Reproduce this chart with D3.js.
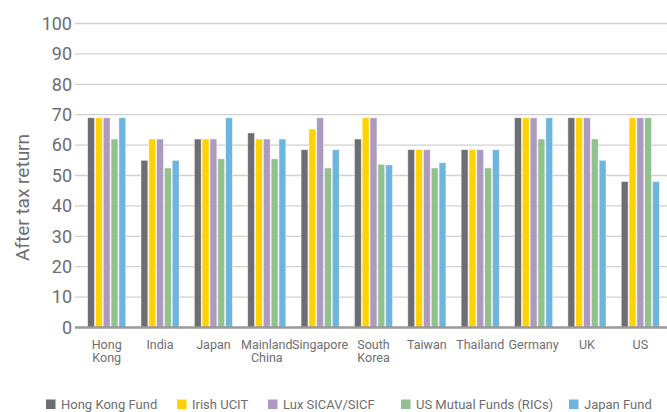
<!DOCTYPE html>
<html>
<head>
<meta charset="utf-8">
<script src="https://cdn.jsdelivr.net/npm/d3@7"></script>
<style>
  html, body { margin: 0; padding: 0; background: #fff; }
  svg { display: block; font-family: Roboto, "Open Sans", sans-serif; }
</style>
</head>
<body>
<svg id="chart" width="667" height="412"></svg>
<script>
// Countries (x categories), label lines for wrapping
const categories = ['Hong Kong', 'India', 'Japan', 'Mainland China', 'Singapore', 'South Korea',
  'Taiwan', 'Thailand', 'Germany', 'UK', 'US'];
const categoryLines = [['Hong', 'Kong'], ['India'], ['Japan'], ['Mainland', 'China'], ['Singapore'],
  ['South', 'Korea'], ['Taiwan'], ['Thailand'], ['Germany'], ['UK'], ['US']];

const seriesNames = ['Hong Kong Fund', 'Irish UCIT', 'Lux SICAV/SICF', 'US Mutual Funds (RICs)', 'Japan Fund'];
const seriesColors = ['#6d6e71', '#ffd200', '#ad9bbf', '#93c18e', '#6db4df'];

// After tax return, one array per fund type, in category order
const hongKongFund = [69, 55, 62, 64, 58.5, 62, 58.5, 58.5, 69, 69, 48];
const irishUcit    = [69, 62, 62, 62, 65.3, 69, 58.5, 58.5, 69, 69, 69];
const luxSicav     = [69, 62, 62, 62, 69, 69, 58.5, 58.5, 69, 69, 69];
const usMutual     = [62, 52.5, 55.5, 55.5, 52.5, 53.7, 52.5, 52.5, 62, 62, 69];
const japanFund    = [69, 55, 69, 62, 58.5, 53.5, 54.2, 58.5, 69, 55, 48];
const seriesValues = [hongKongFund, irishUcit, luxSicav, usMutual, japanFund];

const yTicks = [0, 10, 20, 30, 40, 50, 60, 70, 80, 90, 100];

const svg = d3.select('#chart');
const gridLeft = 75;
const plotRight = 667;

const x = d3.scaleBand().domain(categories).range([80, 667]).paddingInner(0.25).paddingOuter(0.125);
const xs = d3.scaleBand().domain(d3.range(seriesNames.length)).range([0, x.bandwidth()]).padding(0.12);
const y = d3.scaleLinear().domain([0, 100]).range([327.5, 23.5]);

// Gridlines
svg.append('g')
  .selectAll('line')
  .data(yTicks.filter((t) => t > 0))
  .join('line')
  .attr('x1', gridLeft)
  .attr('x2', plotRight)
  .attr('y1', (d) => y(d))
  .attr('y2', (d) => y(d))
  .attr('stroke', '#d0d0d0')
  .attr('stroke-width', 1.3);

// Y tick labels
svg.append('g')
  .selectAll('text')
  .data(yTicks)
  .join('text')
  .attr('x', 72)
  .attr('y', (d) => y(d))
  .attr('dy', '0.35em')
  .attr('text-anchor', 'end')
  .attr('fill', '#6d6e71')
  .style('font-size', '18px')
  .text((d) => d);

// Y axis title
svg.append('text')
  .attr('transform', `translate(29, ${(y(0) + y(100)) / 2 + 22}) rotate(-90)`)
  .attr('text-anchor', 'middle')
  .attr('fill', '#6d6e71')
  .style('font-size', '19px')
  .text('After tax return');

// Bars
const groups = svg.append('g')
  .selectAll('g')
  .data(categories)
  .join('g')
  .attr('transform', (d) => `translate(${x(d)},0)`);

groups.selectAll('rect')
  .data((d, i) => seriesValues.map((vals, s) => ({ s, v: vals[i] })))
  .join('rect')
  .attr('x', (d) => xs(d.s))
  .attr('width', xs.bandwidth())
  .attr('y', (d) => y(d.v))
  .attr('height', (d) => y(0) - y(d.v))
  .attr('fill', (d) => seriesColors[d.s])
  .attr('stroke', '#fff')
  .attr('stroke-opacity', 0.6)
  .attr('stroke-width', 0.8);

// Baseline
svg.append('line')
  .attr('x1', gridLeft)
  .attr('x2', plotRight)
  .attr('y1', y(0))
  .attr('y2', y(0))
  .attr('stroke', '#9a9a9a')
  .attr('stroke-width', 2.5);

// Category labels, one text per line
const catLabels = svg.append('g')
  .selectAll('g')
  .data(categories)
  .join('g')
  .attr('transform', (d) => `translate(${x(d) + x.bandwidth() / 2},0)`);

catLabels.selectAll('text')
  .data((d, i) => categoryLines[i])
  .join('text')
  .attr('y', (d, i) => 348.5 + i * 13.5)
  .attr('text-anchor', 'middle')
  .attr('fill', '#6d6e71')
  .style('font-size', '12.5px')
  .text((d) => d);

// Legend
const legendX = [46, 177, 268, 401, 569];
const legend = svg.append('g')
  .selectAll('g')
  .data(seriesNames)
  .join('g')
  .attr('transform', (d, i) => `translate(${legendX[i]},399.5)`);

legend.append('rect')
  .attr('width', 9.5)
  .attr('height', 9.5)
  .attr('fill', (d, i) => seriesColors[i]);

legend.append('text')
  .attr('x', 15)
  .attr('y', 9)
  .attr('fill', '#6d6e71')
  .style('font-size', '13px')
  .text((d) => d);
</script>
</body>
</html>
